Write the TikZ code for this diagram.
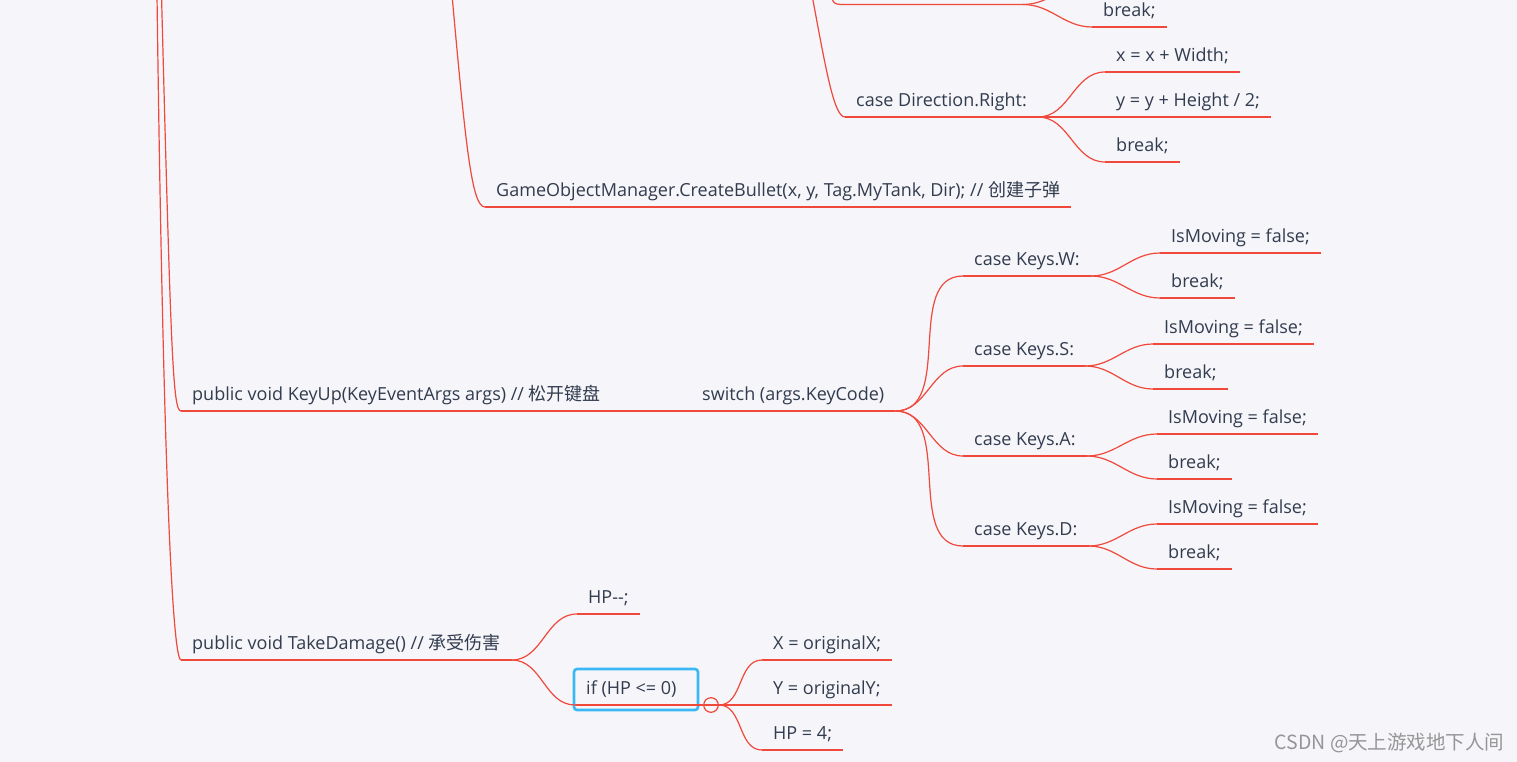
\documentclass[tikz,border=0pt]{standalone}
\usepackage{fontspec}
\setmainfont{Open Sans}
\newfontfamily\cjk{Noto Sans CJK SC}
\definecolor{paper}{RGB}{245,245,250}
\definecolor{ink}{RGB}{50,60,78}
\definecolor{branchred}{RGB}{240,72,58}
\definecolor{selblue}{RGB}{58,184,245}
\definecolor{wmgray}{RGB}{150,150,150}
\tikzset{
  branch/.style={
    draw=branchred,
    line width=1.2pt
  },
  link/.style={
    branch,
    out=0,
    in=180
  },
  topic/.style={
    anchor=south west,
    inner xsep=11pt,
    inner ysep=0pt,
    text height=13pt,
    text depth=10.5pt,
    text=ink,
    font=\fontsize{18}{21}\selectfont,
    append after command={(\tikzlastnode.south west) edge[branch] (\tikzlastnode.south east)}
  },
  selbox/.style={
    draw=selblue,
    line width=2.6pt,
    rounded corners=3pt
  },
  foldmark/.style={
    circle,
    draw=branchred,
    line width=1.2pt,
    minimum size=14.6pt,
    inner sep=0pt,
    path picture={\draw[branchred, line width=1.2pt] (path picture bounding box.west) -- (path picture bounding box.east);}
  }
}
\begin{document}
\begin{tikzpicture}[x=1pt, y=-1pt]

% --- page and margins ---
\path[use as bounding box, fill=paper] (0,0) rectangle (1517,762);
\clip (0,0) rectangle (1517,762);

% --- branches coming from above the page ---
\coordinate (upDamage) at (157,-5);
\coordinate (upKeyUp) at (161.5,-5);
\coordinate (upFire) at (452,-5);
\coordinate (upRight) at (812,-5);
\coordinate (upLeft) at (829,-20);
\coordinate (caseLw) at (845,4.5);
\coordinate (caseLe) at (1023,4.5);
\coordinate (leftHidden) at (1092,-18);

% --- fire: bullet and right direction ---
\node[topic] (bullet) at (485,207) {GameObjectManager.CreateBullet(x, y, Tag.MyTank, Dir); // {\cjk 创建子弹}};
\node[topic] (caseR) at (845,117) {case Direction.Right:};
\node[topic] (rX) at (1105,72) {x = x + Width;};
\node[topic] (rY) at (1105,117) {y = y + Height / 2;};
\node[topic] (rB) at (1105,162) {break;};
\node[topic] (lB) at (1092,27) {break;};

% --- key up ---
\node[topic] (keyup) at (181,411) {public void KeyUp(KeyEventArgs args) // {\cjk 松开键盘}};
\node[topic] (switch) at (691,411) {switch (args.KeyCode)};
\node[topic] (kW) at (963,276) {case Keys.W:};
\node[topic] (kS) at (963,366) {case Keys.S:};
\node[topic] (kA) at (963,456) {case Keys.A:};
\node[topic] (kD) at (963,546) {case Keys.D:};
\node[topic] (wM) at (1160,253) {IsMoving = false;};
\node[topic] (wB) at (1160,298) {break;};
\node[topic] (sM) at (1153,344) {IsMoving = false;};
\node[topic] (sB) at (1153,389) {break;};
\node[topic] (aM) at (1157,434) {IsMoving = false;};
\node[topic] (aB) at (1157,479) {break;};
\node[topic] (dM) at (1157,524) {IsMoving = false;};
\node[topic] (dB) at (1157,569) {break;};

% --- take damage ---
\node[topic] (damage) at (181,660) {public void TakeDamage() // {\cjk 承受伤害}};
\node[topic] (hp) at (577,614) {HP-{}-;};
\node[topic] (ifhp) at (575,705) {if (HP <= 0)};
\node[foldmark] (fold) at (711,705) {};
\node[topic] (cX) at (762,660) {X = originalX;};
\node[topic] (cY) at (762,705) {Y = originalY;};
\node[topic] (cH) at (762,750) {HP = 4;};
\draw[selbox] ([shift={(-1,5)}]ifhp.south west) rectangle ([shift={(123,-36)}]ifhp.south west);

% --- connectors ---
\draw[branch] (upKeyUp) .. controls (171,360) and (173,411) .. (keyup.south west);
\draw[branch] (upDamage) .. controls (163,450) and (172,660) .. (damage.south west);
\draw[branch] (upFire) .. controls (466,150) and (472,207) .. (bullet.south west);
\draw[branch] (upRight) .. controls (826,70) and (834,117) .. (caseR.south west);
\draw[branch] (upLeft) .. controls (832,4.5) .. (caseLw) -- (caseLe);
\draw[link] (caseLe) to (leftHidden);
\draw[link] (caseLe) to (lB.south west);
\foreach \c in {rX,rY,rB}
  \draw[link] (caseR.south east) to (\c.south west);
\draw[branch] (keyup.south east) -- (switch.south west);
\foreach \c in {kW,kS,kA,kD}
  \draw[link] (switch.south east) to (\c.south west);
\draw[link] (kW.south east) to (wM.south west);
\draw[link] (kW.south east) to (wB.south west);
\draw[link] (kS.south east) to (sM.south west);
\draw[link] (kS.south east) to (sB.south west);
\draw[link] (kA.south east) to (aM.south west);
\draw[link] (kA.south east) to (aB.south west);
\draw[link] (kD.south east) to (dM.south west);
\draw[link] (kD.south east) to (dB.south west);
\draw[link] (damage.south east) to (hp.south west);
\draw[link] (damage.south east) to (ifhp.south west);
\draw[branch] (ifhp.south east) -- (fold.west);
\foreach \c in {cX,cY,cH}
  \draw[link] (fold.east) to (\c.south west);

% --- watermark ---
\node[anchor=base east, text=wmgray, font=\cjk\fontsize{19.5}{23}\selectfont] (wm) at (1508,749) {CSDN @天上游戏地下人间};

\end{tikzpicture}
\end{document}
